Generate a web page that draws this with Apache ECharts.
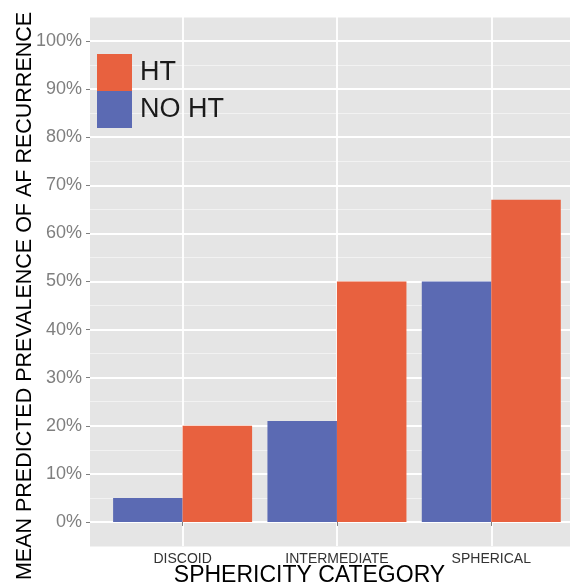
<!DOCTYPE html>
<html>
<head>
<meta charset="utf-8">
<script src="https://cdn.jsdelivr.net/npm/echarts@6/dist/echarts.min.js"></script>
<style>
html,body{margin:0;padding:0;background:#fff;}
#chart{width:570px;height:587px;}
</style>
</head>
<body>
<div id="chart"></div>
<script>
const categories = ['DISCOID', 'INTERMEDIATE', 'SPHERICAL'];
const noHT = [5, 21, 50];
const ht = [20, 50, 67];
const yTicks = [0, 10, 20, 30, 40, 50, 60, 70, 80, 90, 100];
const xTicks = [1, 2, 3];
const seriesNames = ['NO HT', 'HT'];
const legendOrder = ['HT', 'NO HT'];
const yTitle = 'MEAN PREDICTED PREVALENCE OF AF RECURRENCE';
const xTitle = 'SPHERICITY CATEGORY';

const FONT = "'Liberation Sans', Arial, sans-serif";
const chart = echarts.init(document.getElementById('chart'), null, {renderer: 'canvas'});

const option = {
  backgroundColor: '#ffffff',
  animation: false,
  textStyle: {fontFamily: FONT},
  grid: {
    left: 90, top: 17, right: 0, height: 529,
    show: true, backgroundColor: '#e5e5e5', borderWidth: 0
  },
  legend: {
    data: legendOrder,
    orient: 'vertical',
    left: 92, top: 49,
    itemWidth: 35, itemHeight: 37, itemGap: 0,
    icon: 'rect',
    textStyle: {fontSize: 27, color: '#1a1a1a', fontFamily: FONT, padding: [0, 0, 0, 3]}
  },
  xAxis: {
    type: 'value', min: 0.4, max: 3.51,
    axisLine: {show: false},
    axisTick: {show: true, customValues: xTicks, length: 4, lineStyle: {color: '#7f7f7f'}},
    axisLabel: {
      customValues: xTicks, margin: 6, fontSize: 14, color: '#333333', fontFamily: FONT,
      formatter: v => categories[Math.round(v) - 1] || ''
    },
    splitLine: {show: true, lineStyle: {color: '#ffffff', width: 1.8}}
  },
  yAxis: [
    {
      type: 'value', min: -5, max: 105, interval: 5,
      axisLine: {show: false}, axisTick: {show: false}, axisLabel: {show: false},
      splitLine: {show: true, lineStyle: {color: '#f2f2f2', width: 1}}
    },
    {
      type: 'value', position: 'left', min: -5, max: 105,
      axisLine: {show: false},
      axisTick: {show: true, customValues: yTicks, length: 4, lineStyle: {color: '#7f7f7f'}},
      axisLabel: {customValues: yTicks, formatter: v => v + '%', color: '#7f7f7f', fontSize: 18, margin: 8, fontFamily: FONT},
      splitLine: {show: true, lineStyle: {color: '#ffffff', width: 1.8}}
    }
  ],
  series: [
    {
      name: seriesNames[0], type: 'bar', yAxisIndex: 0,
      barWidth: 69.5, barGap: '0%',
      itemStyle: {color: '#5b6ab3'},
      data: noHT.map((v, i) => [xTicks[i], v])
    },
    {
      name: seriesNames[1], type: 'bar', yAxisIndex: 0,
      barWidth: 69.5, barGap: '0%',
      itemStyle: {color: '#e8613f'},
      data: ht.map((v, i) => [xTicks[i], v])
    }
  ],
  graphic: [
    {
      type: 'text', x: 25, y: 296, rotation: Math.PI / 2,
      style: {text: yTitle, fontSize: 21.5, fontFamily: FONT, fill: '#000000', align: 'center', verticalAlign: 'middle'}
    },
    {
      type: 'text', x: 309.5, y: 576,
      style: {text: xTitle, fontSize: 23, fontFamily: FONT, fill: '#000000', align: 'center', verticalAlign: 'middle'}
    }
  ]
};
chart.setOption(option);
</script>
</body>
</html>
